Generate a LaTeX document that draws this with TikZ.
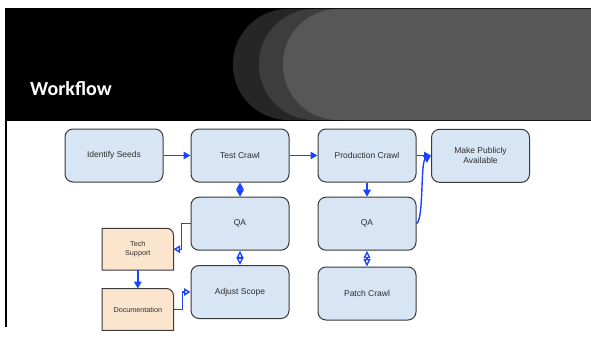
\documentclass[tikz,border=0pt]{standalone}
\usepackage{fontspec}
\setmainfont{Liberation Sans}
\newfontfamily\titlefont{Carlito}
\usetikzlibrary{arrows.meta,backgrounds,calc}
\definecolor{boxblue}{HTML}{D7E5F4}
\definecolor{peach}{HTML}{FCE5CD}
\definecolor{flow}{HTML}{1A44FF}
\definecolor{edgegray}{HTML}{3A3A3A}
\definecolor{txt}{HTML}{2E2E2E}
\definecolor{gone}{HTML}{262626}
\definecolor{gtwo}{HTML}{3D3D3D}
\definecolor{gthree}{HTML}{575757}
\begin{document}
\begin{tikzpicture}[x=1pt,y=-1pt,
  stepbox/.style={draw=edgegray,line width=1pt,fill=boxblue,rounded corners=8pt,
    minimum width=98pt,minimum height=53pt,inner sep=0pt,
    font=\fontsize{8.5}{10}\selectfont,text=txt,align=center},
  notebox/.style={minimum width=71pt,minimum height=41.5pt,inner sep=0pt,
    font=\fontsize{7.2}{8.5}\selectfont,text=txt,align=center},
  notefill/.style={draw=edgegray,line width=1pt,fill=peach},
  flowline/.style={draw=flow,line width=1.4pt},
  fillhead/.style={-{Triangle[length=7pt,width=7.5pt]}},
  openhead/.style={-{Triangle[open,length=6.5pt,width=7.5pt]}},
  fillboth/.style={{Triangle[length=7pt,width=7.5pt]}-{Triangle[length=7pt,width=7.5pt]}},
  openboth/.style={{Triangle[open,length=7.5pt,width=7pt]}-{Triangle[open,length=7.5pt,width=7pt]}}
]
\useasboundingbox (0,0) rectangle (591,337);
% header band
\fill[black] (5,8) rectangle (591,121);
\begin{scope}
  \clip (5,8) rectangle (591,121);
  \fill[gone,rounded corners=55pt] (233,9) rectangle (800,120);
  \fill[gtwo,rounded corners=55pt] (259,9) rectangle (800,120);
  \fill[gthree,rounded corners=55pt] (283,9) rectangle (800,120);
\end{scope}
\fill[black] (5,121) rectangle (7,327);
\node[anchor=base west,text=white,inner sep=0pt,font=\titlefont\bfseries\fontsize{20}{24}\selectfont] (title) at (30,95) {Workflow};

% nodes
\node[stepbox] (seeds) at (114,155.5) {Identify Seeds};
\node[stepbox] (test) at (240,155.5) {Test Crawl};
\node[stepbox] (prod) at (367,155.5) {Production Crawl};
\node[stepbox] (make) at (480.5,155.8) {Make Publicly\\Available};
\node[stepbox] (qaone) at (240,223.7) {QA};
\node[stepbox] (qatwo) at (367,223.7) {QA};
\node[stepbox] (adj) at (240,292) {Adjust Scope};
\node[stepbox] (patch) at (367,293.5) {Patch Crawl};
\node[notebox] (tech) at (137.8,249.2) {Tech\\Support};
\node[notebox] (doc) at (137.8,309.5) {Documentation};
\begin{scope}[on background layer]
  \path[notefill] (tech.south west) -- (tech.north west) [rounded corners=7pt] -- (tech.north east) [sharp corners] -- (tech.south east) -- cycle;
  \path[notefill] (doc.south west) -- (doc.north west) [rounded corners=7pt] -- (doc.north east) [sharp corners] -- (doc.south east) -- cycle;
\end{scope}

% connectors
\draw[flowline,fillhead] (seeds.east) -- (test.west);
\draw[flowline,fillhead] (test.east) -- (prod.west);
\draw[flowline,fillhead] (prod.east) -- (prod.east -| make.west);
\draw[flowline,fillhead] (prod.south) -- (qatwo.north);
\draw[flowline,fillboth] (test.south) -- (qaone.north);
\draw[flowline,openboth] (qaone.south) -- (adj.north);
\draw[flowline,openboth] (qatwo.south) -- (patch.north);
\draw[flowline,fillhead] (tech.south) -- (doc.north);
\draw[flowline,openhead] (qaone.west) -- ++(-9,0) |- (tech.east);
\draw[flowline,openhead] (doc.east) -- ++(9,0) |- (adj.west);
\draw[flowline,fillhead] (qatwo.east) .. controls ($(qatwo.east)+(7.5,-4.7)$) and ($(make.west)+(-10.7,6.2)$) .. (make.west);
\end{tikzpicture}
\end{document}
